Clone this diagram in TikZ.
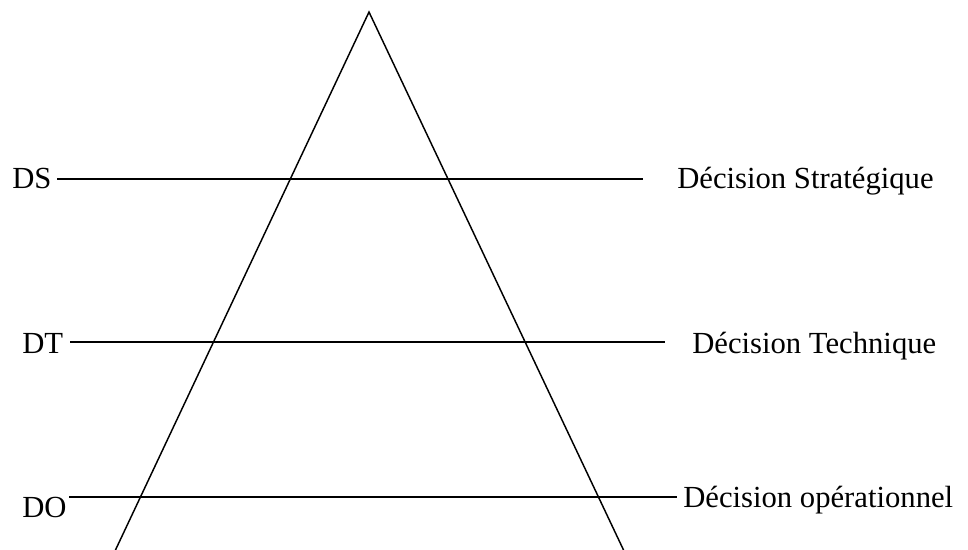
\documentclass[tikz,border=0pt]{standalone}
\usepackage{fontspec}
\setmainfont{Liberation Serif}
\begin{document}
\begin{tikzpicture}[x=0.75pt,y=-0.75pt,
  lbl/.style={anchor=base west,inner sep=0pt,font=\fontsize{23}{27}\selectfont},
  level/.style={line width=1.5pt},
  edge/.style={line width=1.1pt}]
\useasboundingbox (0,0) rectangle (968,550);
% triangle
\coordinate (apex) at (369,12);
\coordinate (bl) at (115,551);
\coordinate (br) at (624,551);
\draw[edge] (bl) -- (apex) -- (br);
% labels
\node[lbl] (ds) at (12,188) {DS};
\node[lbl] (dt) at (22,353) {DT};
\node[lbl] (do) at (22,517) {DO};
\node[lbl] (dst) at (677,188) {Décision Stratégique};
\node[lbl] (dte) at (692,353) {Décision Technique};
\node[lbl] (dop) at (683,507) {Décision opérationnel};
% level lines
\coordinate (ds1) at (57,178.5);
\coordinate (ds2) at (643,178.5);
\coordinate (dt1) at (70,341.7);
\coordinate (dt2) at (665,341.7);
\coordinate (do1) at (69,496.7);
\coordinate (do2) at (677,496.7);
\draw[level] (ds1) -- (ds2);
\draw[level] (dt1) -- (dt2);
\draw[level] (do1) -- (do2);
\end{tikzpicture}
\end{document}
